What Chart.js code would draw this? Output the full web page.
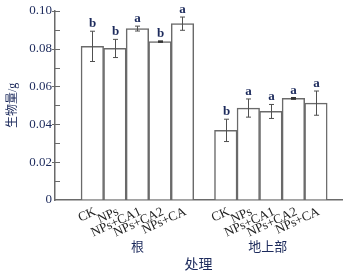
<!DOCTYPE html>
<html>
<head>
<meta charset="utf-8">
<script src="https://cdn.jsdelivr.net/npm/chart.js@4/dist/chart.umd.min.js"></script>
<style>
html,body{margin:0;padding:0;background:#fff;}
#wrap{width:359px;height:277px;}
</style>
</head>
<body>
<div id="wrap"><canvas id="c" width="359" height="277"></canvas></div>
<script>
// ---- data ----
const categories = ['CK', 'NPs', 'NPs+CA1', 'NPs+CA2', 'NPs+CA'];
const groups = ['根', '地上部'];
const rootMeans = [0.0812, 0.0801, 0.0906, 0.0837, 0.0932];
const rootErr = [0.0080, 0.0048, 0.0013, 0.0003, 0.0035];
const rootLetters = ['b', 'b', 'a', 'b', 'a'];
const shootMeans = [0.0368, 0.0486, 0.0468, 0.0537, 0.0512];
const shootErr = [0.0059, 0.0048, 0.0037, 0.0004, 0.0064];
const shootLetters = ['b', 'a', 'a', 'a', 'a'];
const yTicks = [0, 0.02, 0.04, 0.06, 0.08, 0.10];
const yTitle = '生物量/g';
const xTitle = '处理';

// ---- layout helpers (positions on linear x) ----
const shootStart = 5.92;
const xPos = categories.map((_, i) => i).concat(categories.map((_, i) => shootStart + i));
const means = rootMeans.concat(shootMeans);
const errs = rootErr.concat(shootErr);
const letters = rootLetters.concat(shootLetters);
const tickLabels = categories.concat(categories);
const points = xPos.map((x, i) => ({x: x, y: means[i]}));

const serif = '"Liberation Serif", "Times New Roman", "Noto Sans CJK SC", serif';
const navy = '#1c2a5c';
const lineGray = '#6a6a6a';

const extras = {
  id: 'extras',
  afterDatasetsDraw(chart) {
    const ctx = chart.ctx;
    const xs = chart.scales.x, ys = chart.scales.y;
    const area = chart.chartArea;
    ctx.save();
    // inward y ticks
    ctx.strokeStyle = lineGray;
    ctx.lineWidth = 1;
    for (let k = 1; k <= 10; k++) {
      const v = k / 100;
      const py = Math.round(ys.getPixelForValue(v)) + 0.5;
      const major = k % 2 === 0;
      ctx.beginPath();
      ctx.moveTo(area.left - (major ? 3 : 0), py);
      ctx.lineTo(area.left + 5, py);
      ctx.stroke();
    }
    // error bars
    ctx.strokeStyle = '#505050';
    ctx.lineWidth = 1;
    points.forEach((p, i) => {
      const px = Math.round(xs.getPixelForValue(p.x)) + 0.5;
      const top = ys.getPixelForValue(p.y + errs[i]);
      const bot = ys.getPixelForValue(p.y - errs[i]);
      ctx.beginPath();
      ctx.moveTo(px, top); ctx.lineTo(px, bot);
      ctx.moveTo(px - 2.5, top); ctx.lineTo(px + 2.5, top);
      ctx.moveTo(px - 2.5, bot); ctx.lineTo(px + 2.5, bot);
      ctx.stroke();
      if (errs[i] < 0.0006) {
        ctx.fillStyle = '#333';
        ctx.fillRect(px - 2.5, top - 0.5, 5, Math.max(2, bot - top + 1));
      }
      // letters
      ctx.fillStyle = navy;
      ctx.font = 'bold 13px ' + serif;
      ctx.textAlign = 'center';
      ctx.textBaseline = 'alphabetic';
      ctx.fillText(letters[i], px, top - 4);
    });
    // group labels
    ctx.fillStyle = navy;
    ctx.font = '13px ' + serif;
    ctx.textAlign = 'center';
    ctx.textBaseline = 'middle';
    ctx.fillText(groups[0], xs.getPixelForValue(2), 248);
    ctx.fillText(groups[1], xs.getPixelForValue(shootStart + 2) - 3, 248);
    ctx.restore();
  }
};

new Chart(document.getElementById('c'), {
  type: 'bar',
  data: {
    datasets: [{
      data: points,
      backgroundColor: '#ffffff',
      borderColor: lineGray,
      borderWidth: 1.5,
      barPercentage: 1,
      categoryPercentage: 1
    }]
  },
  options: {
    responsive: false,
    animation: false,
    events: [],
    layout: {padding: {top: 10, right: 17, left: 0, bottom: 0}},
    plugins: {legend: {display: false}, tooltip: {enabled: false}},
    scales: {
      x: {
        type: 'linear',
        min: -1.02,
        max: 10.44,
        afterBuildTicks: s => { s.ticks = xPos.map(v => ({value: v})); },
        afterFit: s => { s.height = 77; },
        grid: {display: true, drawOnChartArea: false, drawTicks: false},
        border: {display: true, color: lineGray, width: 1.5},
        ticks: {
          autoSkip: false,
          minRotation: 25,
          maxRotation: 25,
          padding: 4,
          labelOffset: 3,
          color: '#222',
          font: {family: serif, size: 13},
          callback: (v, i) => tickLabels[i]
        },
        title: {display: true, text: xTitle, color: navy, font: {family: serif, size: 14}, padding: {top: 0, bottom: 3}}
      },
      y: {
        min: 0,
        max: 0.1,
        afterBuildTicks: s => { s.ticks = yTicks.map(v => ({value: v})); },
        afterFit: s => { s.width = 55; },
        grid: {display: true, drawOnChartArea: false, drawTicks: false},
        border: {display: true, color: lineGray, width: 1.5},
        ticks: {
          padding: 3,
          color: navy,
          font: {family: serif, size: 13},
          callback: v => v === 0 ? '0' : v.toFixed(2)
        },
        title: {display: true, text: yTitle, color: navy, font: {family: serif, size: 12}, padding: {top: 6, bottom: 0}}
      }
    }
  },
  plugins: [extras]
});
</script>
</body>
</html>
